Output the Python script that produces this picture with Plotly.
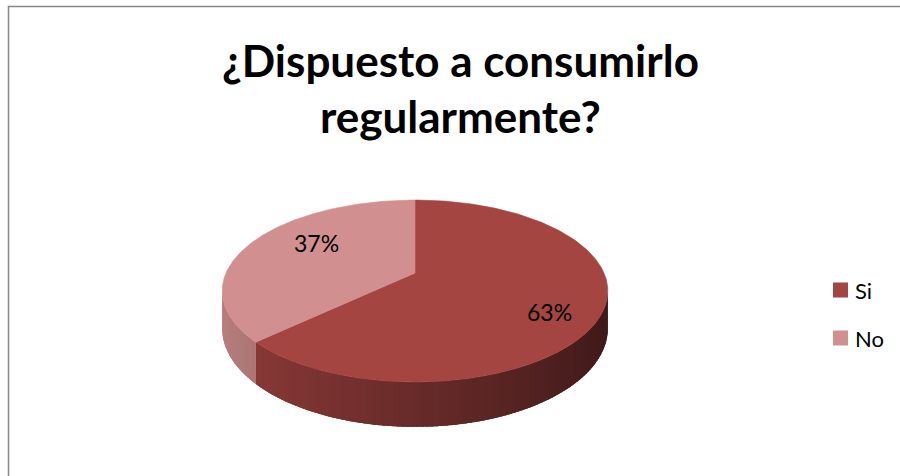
import numpy as np
import plotly.graph_objects as go

# ---- data -------------------------------------------------------------
categories = ["Si", "No"]
values = [63, 37]
slice_colors = ["#A54542", "#D1908F"]
title_lines = ["¿Dispuesto a consumirlo", "regularmente?"]

# ---- canvas / 3-D pie geometry (pixel units) ---------------------------
W, H = 900, 476
CX, CY = 415.0, 273.0      # projected centre of the top face
R, RY = 189.0, 87.4        # horizontal / vertical radius of the disc
K = 0.198                  # perspective strength (far side smaller)
DEPTH = 36.0               # thickness of the disc
LABEL_R = 0.66             # radial position of the percentage labels
LABEL_NUDGE = [(10, 14), (8, -9)]
FONT = "Lato"


def project(theta_deg, drop=0.0):
    """Angle measured clockwise from 12 o'clock -> screen position."""
    t = np.radians(theta_deg)
    u, v = np.sin(t), np.cos(t)
    f = 1.0 / (1.0 + K * v)
    return CX + R * u * f, CY - RY * v * f + drop * f


def hex_rgb(h):
    h = h.lstrip("#")
    return np.array([int(h[i:i + 2], 16) for i in (0, 2, 4)], dtype=float)


def shade(hex_color, theta_deg):
    """Side-wall colour lit from the left."""
    light = 0.63 + 0.26 * np.cos(np.radians(theta_deg - 270.0))
    c = np.clip(hex_rgb(hex_color) * light, 0, 255).astype(int)
    return "rgb({},{},{})".format(*c)


def polygon(xs, ys, color):
    return go.Scatter(x=xs, y=ys, mode="lines", fill="toself",
                      fillcolor=color, line=dict(width=0),
                      hoverinfo="skip", showlegend=False)


fig = go.Figure()

total = float(sum(values))
starts, ends = [], []
acc = 0.0
for v in values:
    starts.append(acc / total * 360.0)
    acc += v
    ends.append(acc / total * 360.0)

# visible part of the wall lies between the two silhouette angles
vis_lo = np.degrees(np.arccos(-K))
vis_hi = 360.0 - vis_lo

# ---- side walls: backing piece plus thin overlapping shaded strips --------
for a0, a1, col in zip(starts, ends, slice_colors):
    lo, hi = max(a0, vis_lo), min(a1, vis_hi)
    if hi <= lo:
        continue
    ts = np.linspace(lo, hi, 120)
    tx, ty = project(ts)
    bx, by = project(ts[::-1], DEPTH)
    fig.add_trace(polygon(np.concatenate([tx, bx]), np.concatenate([ty, by]),
                          shade(col, 0.5 * (lo + hi))))
    n = max(2, int(np.ceil((hi - lo) / 1.2)))
    edges = np.linspace(lo, hi, n + 1)
    step = edges[1] - edges[0]
    for e0 in edges[:-1]:
        e1 = min(e0 + step * 1.6, hi)
        ts = np.linspace(e0, e1, 5)
        tx, ty = project(ts)
        bx, by = project(ts[::-1], DEPTH)
        fig.add_trace(polygon(np.concatenate([tx, bx]), np.concatenate([ty, by]),
                              shade(col, e0 + 0.5 * step)))

# ---- top faces -------------------------------------------------------
for a0, a1, col in zip(starts, ends, slice_colors):
    ts = np.linspace(a0, a1, 240)
    rx, ry = project(ts)
    fig.add_trace(go.Scatter(
        x=np.concatenate([[CX], rx, [CX]]), y=np.concatenate([[CY], ry, [CY]]),
        mode="lines", fill="toself", fillcolor=col,
        line=dict(color=col, width=0.6),
        hoverinfo="skip", showlegend=False))

# ---- percentage labels ---------------------------------------------------
annotations = []
for a0, a1, v, (dx, dy) in zip(starts, ends, values, LABEL_NUDGE):
    mid = np.radians(0.5 * (a0 + a1))
    u, w = np.sin(mid), np.cos(mid)
    f = 1.0 / (1.0 + K * w)
    lx = CX + R * LABEL_R * u * f + dx
    ly = CY - RY * LABEL_R * w * f + dy
    annotations.append(dict(
        x=lx, y=ly, xref="x", yref="y", showarrow=False,
        text=f"{round(v / total * 100)}%",
        font=dict(family=FONT, size=23, color="#000000"),
        xanchor="center", yanchor="middle"))

# ---- title ---------------------------------------------------------------
for i, line in enumerate(title_lines):
    annotations.append(dict(
        x=460, y=60 + i * 56, xref="x", yref="y", showarrow=False,
        text=f"<b>{line}</b>",
        font=dict(family=FONT, size=44, color="#000000"),
        xanchor="center", yanchor="middle"))

# ---- legend (swatch + label) -----------------------------------------------
shapes = []
LEG_X, LEG_Y, LEG_STEP, SW = 833, 290, 48, 15
for i, (name, col) in enumerate(zip(categories, slice_colors)):
    yc = LEG_Y + i * LEG_STEP
    shapes.append(dict(type="rect", xref="x", yref="y",
                       x0=LEG_X, x1=LEG_X + SW, y0=yc - SW / 2, y1=yc + SW / 2,
                       fillcolor=col, line=dict(width=0)))
    annotations.append(dict(
        x=LEG_X + SW + 5, y=yc, xref="x", yref="y", showarrow=False,
        text=name, font=dict(family=FONT, size=22, color="#000000"),
        xanchor="left", yanchor="middle"))

# chart-area frame
shapes.append(dict(type="rect", xref="x", yref="y",
                   x0=8.5, x1=W + 10, y0=6.5, y1=H + 10,
                   line=dict(color="#878787", width=1.5),
                   fillcolor="rgba(0,0,0,0)", layer="below"))

fig.update_layout(
    width=W, height=H,
    margin=dict(l=0, r=0, t=0, b=0),
    paper_bgcolor="#FFFFFF", plot_bgcolor="#FFFFFF",
    xaxis=dict(range=[0, W], visible=False, fixedrange=True),
    yaxis=dict(range=[H, 0], visible=False, fixedrange=True),
    shapes=shapes, annotations=annotations,
    showlegend=False,
)

fig.write_html("out.html")
